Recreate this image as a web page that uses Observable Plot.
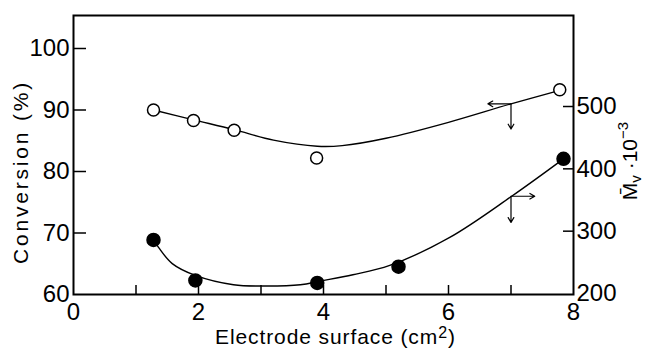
<!DOCTYPE html>
<html>
<head>
<meta charset="utf-8">
<script src="https://cdn.jsdelivr.net/npm/d3@7"></script>
<script src="https://cdn.jsdelivr.net/npm/@observablehq/plot@0.6"></script>
<style>
  html, body { margin: 0; padding: 0; background: #fff; }
  #chart svg { display: block; }
</style>
</head>
<body>
<div id="chart"></div>
<script>
// ---- data ----
// Conversion (%) – open circles, left axis
const convX = [1.28, 1.92, 2.57, 3.89, 7.78];
const convY = [90.0, 88.3, 86.7, 82.2, 93.3];
// fitted curve through conversion data
const convCurveX = [1.28, 1.92, 2.57, 3.2, 3.9, 4.3, 5.0, 6.0, 7.0, 7.78];
const convCurveY = [90.0, 88.4, 86.8, 85.1, 84.1, 84.2, 85.4, 88.0, 91.0, 93.2];

// Mv·10^-3 – filled circles, right axis
const mvX = [1.28, 1.95, 3.90, 5.20, 7.84];
const mvY = [286, 221, 217, 243, 416];
// fitted curve through Mv data
const mvCurveX = [1.28, 1.36, 1.58, 1.95, 2.56, 3.04, 3.63, 3.95, 4.47, 5.06, 6.02, 7.01, 7.84];
const mvCurveY = [286, 274, 248, 229, 214, 212, 214, 220, 230, 245, 290, 356, 416];

// axis ticks / labels
const xLabels = [0, 2, 4, 6, 8];
const xTicks = [1, 2, 3, 4, 5, 6, 7];
const leftLabels = [60, 70, 80, 90, 100];
const leftTicks = [70, 80, 90, 100];
const rightLabels = [200, 300, 400, 500];
const rightTicks = [300, 400, 500];

// indicator arrows (which axis each curve belongs to)
const convArrowAt = {x: 7.0, y: 91.0, toX: 6.63, toY: 86.9};
const mvArrowAt = {x: 7.0, y: 356, toX: 7.38, toY: 314};

// ---- layout ----
const W = 646, H = 348;
const mL = 73, mR = 73, mT = 15, mB = 54;
const pxX = (W - mL - mR) / 8;      // px per x unit
const pxY = 6.15;                   // px per conversion %
const yTop = 60 + (H - mB - mT) / pxY;
// right axis (Mv) expressed in left-axis units
const mvToConv = mv => 60 + (1 + (mv - 200) * 0.6233) / pxY;

const font = "'Liberation Sans', Arial, sans-serif";

const convPts = convX.map((x, i) => ({x, y: convY[i]}));
const convCurve = convCurveX.map((x, i) => ({x, y: convCurveY[i]}));
const mvPts = mvX.map((x, i) => ({x, y: mvToConv(mvY[i])}));
const mvCurve = mvCurveX.map((x, i) => ({x, y: mvToConv(mvCurveY[i])}));

const arrows = [
  {x1: convArrowAt.x, y1: convArrowAt.y, x2: convArrowAt.toX, y2: convArrowAt.y},
  {x1: convArrowAt.x, y1: convArrowAt.y, x2: convArrowAt.x, y2: convArrowAt.toY},
  {x1: mvArrowAt.x, y1: mvToConv(mvArrowAt.y), x2: mvArrowAt.toX, y2: mvToConv(mvArrowAt.y)},
  {x1: mvArrowAt.x, y1: mvToConv(mvArrowAt.y), x2: mvArrowAt.x, y2: mvToConv(mvArrowAt.toY)}
];

const plot = Plot.plot({
  width: W,
  height: H,
  marginLeft: mL,
  marginRight: mR,
  marginTop: mT,
  marginBottom: mB,
  style: {fontFamily: font, background: "#fff", color: "#000"},
  x: {domain: [0, 8], axis: null},
  y: {domain: [60, yTop], axis: null},
  marks: [
    Plot.frame({stroke: "#000", strokeWidth: 2}),
    // inward ticks
    Plot.ruleY(leftTicks, {y: d => d, x1: 0, x2: 13 / pxX, stroke: "#000", strokeWidth: 1.5}),
    Plot.ruleY(rightTicks, {y: d => mvToConv(d), x1: 8 - 10 / pxX, x2: 8, stroke: "#000", strokeWidth: 1.5}),
    Plot.ruleX(xTicks, {x: d => d, y1: 60, y2: 60 + 9 / pxY, stroke: "#000", strokeWidth: 1.5}),
    // tick labels
    Plot.text(leftLabels, {x: 0, y: d => d, text: d => String(d), textAnchor: "end", dx: -4, fontSize: 24, fill: "#000"}),
    Plot.text(rightLabels, {x: 8, y: d => mvToConv(d), text: d => String(d), textAnchor: "start", dx: 3, fontSize: 24, fill: "#000"}),
    Plot.text(xLabels, {x: d => d, y: 60, text: d => String(d), dy: 18, fontSize: 24, fill: "#000"}),
    // curves
    Plot.line(convCurve, {x: "x", y: "y", curve: "catmull-rom", stroke: "#000", strokeWidth: 1.4}),
    Plot.line(mvCurve, {x: "x", y: "y", curve: "catmull-rom", stroke: "#000", strokeWidth: 1.4}),
    // arrows
    Plot.arrow(arrows, {x1: "x1", y1: "y1", x2: "x2", y2: "y2", bend: 0, headLength: 7, stroke: "#000", strokeWidth: 1.2}),
    // points
    Plot.dot(convPts, {x: "x", y: "y", r: 6, fill: "#fff", stroke: "#000", strokeWidth: 1.5}),
    Plot.dot(mvPts, {x: "x", y: "y", r: 6.5, fill: "#000", stroke: "#000"})
  ]
});

const svg = d3.select(plot);

// x-axis title
const xt = svg.append("text")
  .attr("x", 215).attr("y", 344)
  .attr("text-anchor", "start")
  .attr("font-family", font).attr("font-size", 21)
  .attr("letter-spacing", "0.9px").attr("fill", "#000");
xt.append("tspan").text("Electrode surface (cm");
xt.append("tspan").attr("font-size", 16).attr("dy", -6).text("2");
xt.append("tspan").attr("dy", 6).text(")");

// left y-axis title
svg.append("text")
  .attr("transform", "translate(28,172) rotate(-90)")
  .attr("text-anchor", "middle")
  .attr("font-family", font).attr("font-size", 21)
  .attr("letter-spacing", "2.8px").attr("fill", "#000")
  .text("Conversion (%)");

// right y-axis title
const rt = svg.append("text")
  .attr("transform", "translate(637,161) rotate(-90)")
  .attr("text-anchor", "middle")
  .attr("font-family", font).attr("font-size", 21)
  .attr("fill", "#000");
rt.append("tspan").text("M\u0304");
rt.append("tspan").attr("font-size", 15).attr("dy", 4).text("v");
rt.append("tspan").attr("dy", -4).text(" \u00B710");
rt.append("tspan").attr("font-size", 15).attr("dy", -9).text("\u22123");

document.getElementById("chart").appendChild(plot);
</script>
</body>
</html>
